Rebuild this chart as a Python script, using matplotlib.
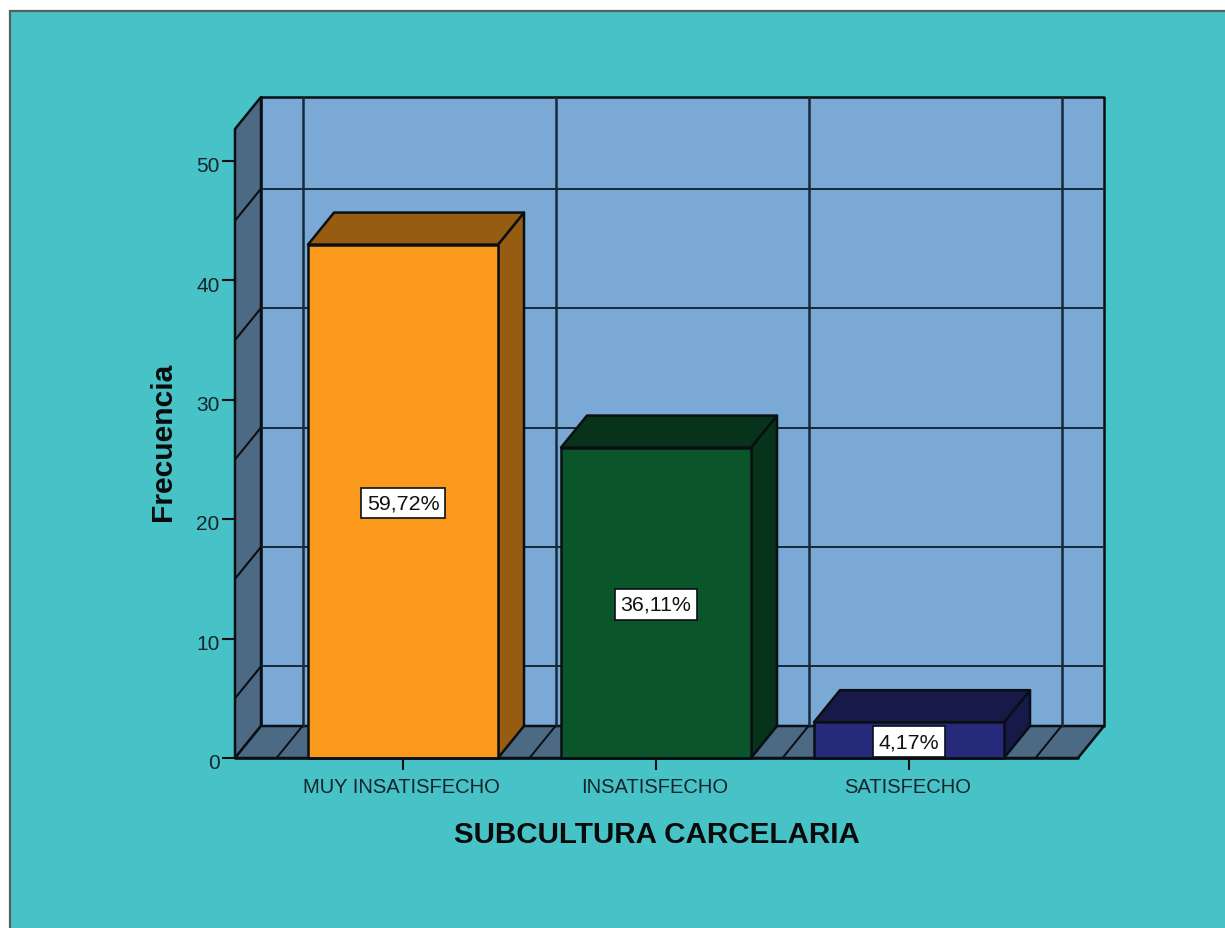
import numpy as np
import matplotlib
matplotlib.use('Agg')
import matplotlib.pyplot as plt
from matplotlib.patches import Polygon, Rectangle
from matplotlib.transforms import ScaledTranslation

categorias = ['MUY INSATISFECHO', 'INSATISFECHO', 'SATISFECHO']
frecuencias = [43, 26, 3]
porcentajes = ['59,72%', '36,11%', '4,17%']
colores_frente = ['#FB991D', '#0B552B', '#272A7A']
colores_lado = ['#965C11', '#07331A', '#171949']
y_ticks = [0, 10, 20, 30, 40, 50]
y_rejilla = [5, 15, 25, 35, 45]

W, H = 1225, 929
FONDO = '#47C2C7'
PARED = '#7BA9D6'
SUELO = '#4D6A84'
BORDE = '#0A0F14'
REJILLA = '#17293A'

plt.rcParams['font.family'] = ['Liberation Sans', 'DejaVu Sans']

fig = plt.figure(figsize=(W / 100, H / 100), dpi=100, facecolor='white')
fig.add_artist(Rectangle((10 / W, -0.02), 1.1, 1.02 - 12 / H, transform=fig.transFigure,
                         facecolor=FONDO, edgecolor='#555f60', linewidth=1.6, zorder=-1))

# axes = front face of the 3d box
ax = fig.add_axes([235 / W, 1 - 759 / H, (1078 - 235) / W, (759 - 130) / H])
ax.patch.set_visible(False)
for s in ax.spines.values():
    s.set_visible(False)

px_x = 253.0
xmin, xmax = (235 - 403) / px_x, (1078 - 403) / px_x
ymin, ymax = 0, (759 - 130) / 11.94
ax.set_xlim(xmin, xmax)
ax.set_ylim(ymin, ymax)

dx = 26 / px_x   # depth of the box
dy = 32 / 11.94
ancho = 190 / px_x


def poly(pts, color, z, lw=1.8):
    ax.add_patch(Polygon(pts, closed=True, facecolor=color, edgecolor=BORDE,
                         linewidth=lw, zorder=z, clip_on=False, joinstyle='round'))


def linea(xs, ys, z, color=REJILLA, lw=1.6):
    ax.plot(xs, ys, color=color, linewidth=lw, zorder=z, clip_on=False, solid_capstyle='round')


# walls and floor
poly([(xmin + dx, dy), (xmax + dx, dy), (xmax + dx, ymax + dy), (xmin + dx, ymax + dy)], PARED, 1)
poly([(xmin, 0), (xmin + dx, dy), (xmin + dx, ymax + dy), (xmin, ymax)], SUELO, 2)
poly([(xmin, 0), (xmax, 0), (xmax + dx, dy), (xmin + dx, dy)], SUELO, 2)

# grid on the walls
for v in y_rejilla:
    linea([xmin + dx, xmax + dx], [v + dy, v + dy], 3, lw=1.4)
    linea([xmin, xmin + dx], [v, v + dy], 3, color=BORDE, lw=1.5)
for i in range(len(categorias) + 1):
    g = i - 0.5
    linea([g + dx, g + dx], [dy, ymax + dy], 3, lw=1.8)
    linea([g, g + dx], [0, dy], 3, color=BORDE, lw=1.4)

# bars
pos = np.arange(len(categorias))
for i, (f, cf, cl) in enumerate(zip(frecuencias, colores_frente, colores_lado)):
    izq, der = i - ancho / 2, i + ancho / 2
    ax.bar(i, f, width=ancho, color=cf, edgecolor=BORDE, linewidth=1.8, zorder=6, clip_on=False)
    poly([(der, 0), (der + dx, dy), (der + dx, f + dy), (der, f)], cl, 5)
    poly([(izq, f), (der, f), (der + dx, f + dy), (izq + dx, f + dy)], cl, 5)
    ax.annotate(porcentajes[i], (i, f / 2), xytext=(0, -1.2), textcoords='offset points',
                ha='center', va='center', fontsize=15.4, color='#111111', zorder=8,
                bbox=dict(boxstyle='square,pad=0.27', facecolor='white', edgecolor=BORDE, linewidth=1.2))

linea([xmin, xmax], [0, 0], 7, color=BORDE, lw=1.8)

ax.set_xticks(pos)
ax.set_xticklabels(categorias)
ax.set_yticks(y_ticks)
ax.tick_params(axis='x', length=8.5, width=1.5, color=BORDE, labelcolor='#14262b', labelsize=14.5, pad=5)
ax.tick_params(axis='y', length=9.5, width=1.5, color=BORDE, labelcolor='#14262b', labelsize=15, pad=1.5)
for lab in ax.get_yticklabels():
    lab.set_transform(lab.get_transform() + ScaledTranslation(0, -2 / 72, fig.dpi_scale_trans))
for lab in ax.get_xticklabels():
    lab.set_transform(lab.get_transform() + ScaledTranslation(-1.5 / 100, 0, fig.dpi_scale_trans))

fig.text(657 / W, 1 - 835 / H, 'SUBCULTURA CARCELARIA', ha='center', va='center',
         fontsize=21.3, fontweight='bold', color='#0a0a0a')
fig.text(163 / W, 1 - 442 / H, 'Frecuencia', ha='center', va='center', rotation=90,
         fontsize=21.6, fontweight='bold', color='#0a0a0a')

fig.savefig('out.png', dpi=100, facecolor='white')
